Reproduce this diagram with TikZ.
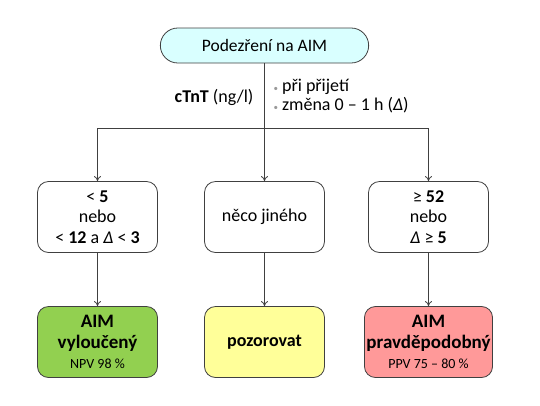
\documentclass[tikz,border=0pt]{standalone}
\usepackage{fontspec}
\setmainfont{Carlito}
\usetikzlibrary{arrows.meta,shapes.misc}
\definecolor{topfill}{HTML}{D9FFFF}
\definecolor{greenfill}{HTML}{92D050}
\definecolor{yellowfill}{HTML}{FFFF99}
\definecolor{pinkfill}{HTML}{FF9999}
\definecolor{edge}{HTML}{404040}
\tikzset{
  box/.style={draw=edge, line width=0.8pt, rounded corners=11pt, minimum width=120pt, minimum height=71pt, align=center, font=\fontsize{18}{20.5}\selectfont, inner sep=2pt},
  conn/.style={draw=edge, line width=0.8pt},
  arr/.style={conn, -{To[length=5pt,width=7pt]}},
  bul/.style={anchor=west, font=\fontsize{18}{20}\selectfont}
}
\begin{document}
\begin{tikzpicture}[x=1pt,y=-1pt]
\useasboundingbox (0,0) rectangle (540,405);
\node[rounded rectangle, draw=edge, line width=0.8pt, fill=topfill, minimum width=215pt, minimum height=35pt, font=\fontsize{17.5}{20}\selectfont] (top) at (264.5,45.5) {Podezření na AIM};
\coordinate (split) at (264.5,128);
\coordinate (sl) at (97.5,128);
\coordinate (sr) at (428.5,128);
\node[box] (b1) at (97.5,217) {< \textbf{5}\\nebo\\< \textbf{12} a \textit{Δ} < \textbf{3}};
\node[box] (b2) at (264.5,217) {něco jiného};
\node[box] (b3) at (428.5,217) {≥ \textbf{52}\\nebo\\\textit{Δ} ≥ \textbf{5}};
\node[box, fill=greenfill] (c1) at (97.5,342) {\textbf{\fontsize{19}{21}\selectfont AIM}\\\textbf{\fontsize{19}{21}\selectfont vyloučený}\\{\fontsize{14}{17}\selectfont NPV 98 \%}};
\node[box, fill=yellowfill] (c2) at (264.5,342) {\textbf{pozorovat}};
\node[box, fill=pinkfill] (c3) at (428.5,342) {\textbf{\fontsize{19}{21}\selectfont AIM}\\\textbf{\fontsize{19}{21}\selectfont pravděpodobný}\\{\fontsize{14}{17}\selectfont PPV 75 – 80 \%}};
\node[anchor=east, font=\fontsize{18}{20}\selectfont] (lab) at (257,97) {\textbf{cTnT} (ng/l)};
\node[bul] (p1) at (270,87) {{\color{gray!80}\small •} při přijetí};
\node[bul] (p2) at (270,105) {{\color{gray!80}\small •} změna 0 – 1 h (\textit{Δ})};
\draw[conn] (top.south) -- (split);
\draw[conn] (sl) -- (sr);
\draw[arr] (sl) -- (b1.north);
\draw[arr] (split) -- (b2.north);
\draw[arr] (sr) -- (b3.north);
\draw[arr] (b1.south) -- (c1.north);
\draw[arr] (b2.south) -- (c2.north);
\draw[arr] (b3.south) -- (c3.north);
\end{tikzpicture}
\end{document}
